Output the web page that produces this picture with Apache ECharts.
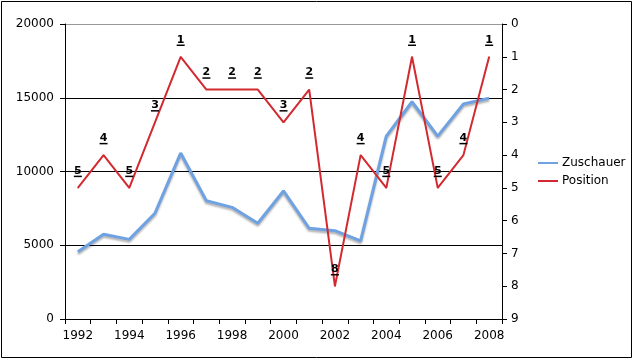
<!DOCTYPE html>
<html><head><meta charset="utf-8">
<script src="https://cdn.jsdelivr.net/npm/echarts@6/dist/echarts.min.js"></script>
<style>html,body{margin:0;padding:0;background:#fff}#c{width:634px;height:360px}</style>
</head><body><div id="c"></div>
<script>
const years = ['1992','1993','1994','1995','1996','1997','1998','1999','2000','2001','2002','2003','2004','2005','2006','2007','2008'];
const zuschauer = [4560,5740,5400,7170,11250,8020,7570,6490,8680,6150,5990,5290,12400,14730,12400,14580,14960];
const position = [5,4,5,3,1,2,2,2,3,2,8,4,5,1,5,4,1];
const leftTicks = [0,5000,10000,15000,20000];
const rightTicks = [0,1,2,3,4,5,6,7,8,9];

const font = 'DejaVu Sans, Verdana, sans-serif';
const chart = echarts.init(document.getElementById('c'), null, {renderer:'canvas'});
chart.setOption({
  animation:false,
  textStyle:{fontFamily:font},
  graphic:[{type:'rect',shape:{x:1.5,y:1.5,width:630,height:356},style:{fill:'none',stroke:'#000',lineWidth:1},silent:true,z:-1}],
  grid:{left:65,right:132,top:24,bottom:41,containLabel:false},
  legend:{orient:'vertical',left:533,top:152,itemWidth:20,itemHeight:2,itemGap:6,icon:'rect',
    textStyle:{fontFamily:font,fontSize:12,color:'#000',padding:[0,0,0,-1]},
    data:['Zuschauer','Position']},
  xAxis:{type:'category',data:years,boundaryGap:true,
    axisLine:{lineStyle:{color:'#000',width:1}},
    axisTick:{show:true,interval:0,length:5,lineStyle:{color:'#000'}},
    axisLabel:{interval:1,color:'#000',fontSize:12,fontFamily:font,margin:11},
    splitLine:{show:false}},
  yAxis:[
    {type:'value',min:leftTicks[0],max:leftTicks[leftTicks.length-1],interval:5000,
     axisLine:{show:true,lineStyle:{color:'#000'}},
     axisTick:{show:true,length:5,lineStyle:{color:'#000'}},
     axisLabel:{color:'#000',fontSize:12,fontFamily:font,margin:11,formatter:function(v){return String(v);}},
     splitLine:{show:true,lineStyle:{color:['#000','#000','#000','#000','#999'],width:1}}},
    {type:'value',min:rightTicks[0],max:rightTicks[rightTicks.length-1],interval:1,inverse:true,
     axisLine:{show:true,lineStyle:{color:'#000'}},
     axisTick:{show:true,length:5,lineStyle:{color:'#000'}},
     axisLabel:{color:'#000',fontSize:12,fontFamily:font,margin:9},
     splitLine:{show:false}}
  ],
  series:[
    {name:'Zuschauer',type:'line',yAxisIndex:0,data:zuschauer,showSymbol:false,symbol:'none',
     color:'#6fa2e2',
     lineStyle:{color:'#6fa2e2',width:3,shadowColor:'rgba(0,0,0,0.3)',shadowBlur:2,shadowOffsetY:2},
     z:2},
    {name:'Position',type:'line',yAxisIndex:1,data:position,symbol:'circle',symbolSize:1,
     color:'#d22a30',
     lineStyle:{color:'#d22a30',width:2},
     label:{show:true,position:'top',distance:10,
       formatter:function(p){return '{n|'+p.value+'}\n{u|}';},
       rich:{n:{fontFamily:font,fontWeight:'bold',fontSize:11,color:'#000',align:'center',lineHeight:9},
             u:{width:8,height:1.5,lineHeight:2,backgroundColor:'#000',align:'center'}}},
     z:3}
  ]
});
</script></body></html>
